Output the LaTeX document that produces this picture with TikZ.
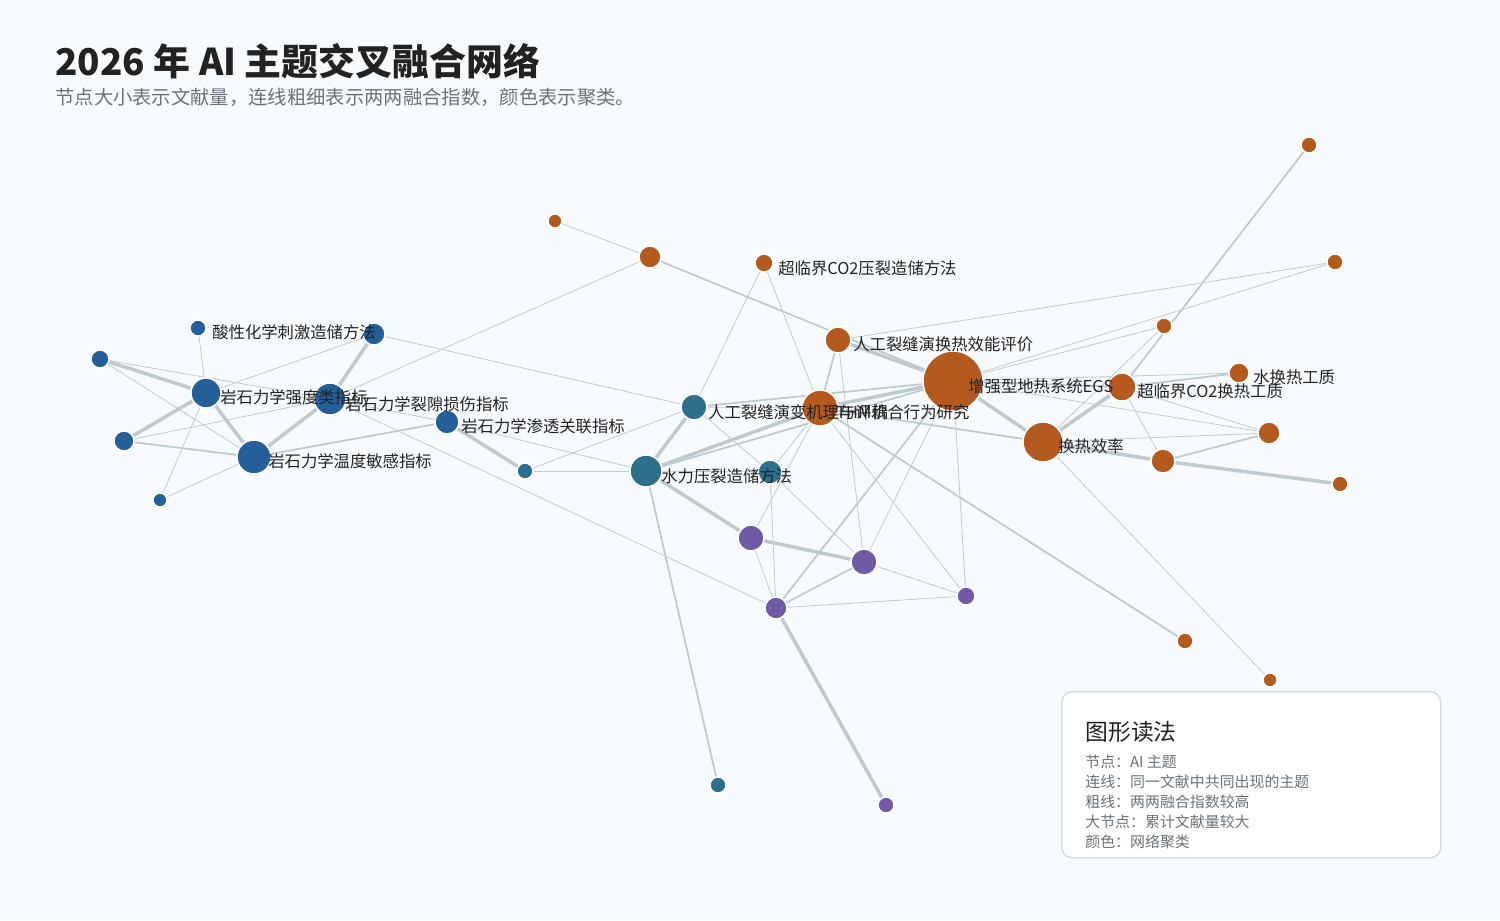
\documentclass[tikz,border=0pt]{standalone}
\usepackage{fontspec}
\setmainfont{Noto Sans CJK SC}
\usetikzlibrary{backgrounds}
\definecolor{bg}{HTML}{F8FBFE}
\definecolor{cb}{HTML}{255F9A}
\definecolor{ct}{HTML}{2E6F8E}
\definecolor{co}{HTML}{B45A1F}
\definecolor{cp}{HTML}{6E5AA5}
\definecolor{ed}{HTML}{BFCAD0}
\definecolor{tx}{HTML}{222222}
\definecolor{sub}{HTML}{6B7378}
\begin{document}
\begin{tikzpicture}[x=0.02cm,y=-0.02cm,
  dot/.style={circle,inner sep=0pt,minimum size=#1*0.04cm,draw=white,line width=0.8pt},
  b/.style={dot=#1,fill=cb}, t/.style={dot=#1,fill=ct}, o/.style={dot=#1,fill=co}, p/.style={dot=#1,fill=cp},
  lbl/.style={font=\fontsize{9.3}{11}\selectfont,text=tx,inner sep=0pt,anchor=west},
  e/.style={draw=ed,line width=0.45pt}, m/.style={draw=ed,line width=1pt}, k/.style={draw=ed,line width=2pt}]
\useasboundingbox (0,0) rectangle (1500,920);
\node[anchor=base west,inner sep=0,font=\fontsize{21}{24}\selectfont\bfseries,text=tx] (title) at (55,75) {2026 年 AI 主题交叉融合网络};
\node[anchor=base west,inner sep=0,font=\fontsize{11}{13}\selectfont,text=sub] (subt) at (55,104) {节点大小表示文献量，连线粗细表示两两融合指数，颜色表示聚类。};
% blue
\node[b=8] (B1) at (198,328) {};
\node[b=11] (B2) at (374,334) {};
\node[b=9] (B3) at (100,359) {};
\node[b=15] (B4) at (206,393) {};
\node[b=16] (B5) at (330,399) {};
\node[b=10] (B6) at (124,441) {};
\node[b=17] (B7) at (254,457) {};
\node[b=7] (B8) at (160,500) {};
\node[b=12] (B9) at (447,422) {};
% teal
\node[t=8] (T1) at (525,471) {};
\node[t=16] (T2) at (646,471) {};
\node[t=13] (T3) at (694,407) {};
\node[t=12] (T4) at (770,472) {};
\node[t=8] (T5) at (718,785) {};
% orange
\node[o=7] (O1) at (555,221) {};
\node[o=11] (O2) at (650,257) {};
\node[o=9] (O3) at (764,263) {};
\node[o=13] (O4) at (838,340) {};
\node[o=18] (O5) at (820,408) {};
\node[o=30] (O6) at (953,381) {};
\node[o=20] (O7) at (1043,442) {};
\node[o=14] (O8) at (1122,387) {};
\node[o=8] (O9) at (1164,326) {};
\node[o=10] (O10) at (1239,373) {};
\node[o=11] (O11) at (1269,433) {};
\node[o=12] (O12) at (1163,461) {};
\node[o=8] (O13) at (1340,484) {};
\node[o=8] (O14) at (1309,145) {};
\node[o=8] (O15) at (1335,262) {};
\node[o=8] (O16) at (1185,641) {};
\node[o=7] (O17) at (1270,680) {};
% purple
\node[p=13] (P1) at (751,538) {};
\node[p=13] (P2) at (864,562) {};
\node[p=11] (P3) at (776,608) {};
\node[p=9] (P4) at (966,596) {};
\node[p=8] (P5) at (886,805) {};
% labels
\node[lbl] (LB1) at (212,332) {酸性化学刺激造储方法};
\node[lbl] (LB4) at (220,397) {岩石力学强度类指标};
\node[lbl] (LB5) at (345,404) {岩石力学裂隙损伤指标};
\node[lbl] (LB7) at (268,461) {岩石力学温度敏感指标};
\node[lbl] (LB9) at (461,426) {岩石力学渗透关联指标};
\node[lbl] (LT2) at (661,476) {水力压裂造储方法};
\node[lbl] (LT3) at (708,412) {人工裂缝演变机理与评价};
\node[lbl] (LO3) at (778,268) {超临界CO2压裂造储方法};
\node[lbl] (LO4) at (853,344) {人工裂缝演换热效能评价};
\node[lbl] (LO5) at (836,412) {THM耦合行为研究};
\node[lbl] (LO6) at (968,386) {增强型地热系统EGS};
\node[lbl] (LO7) at (1058,446) {换热效率};
\node[lbl] (LO8) at (1137,391) {超临界CO2换热工质};
\node[lbl] (LO10) at (1253,377) {水换热工质};
\begin{scope}[on background layer]
\fill[bg] (0,0) rectangle (1500,920);
\draw[k] (B3)--(B4); \draw[e] (B3)--(B5); \draw[e] (B3)--(B7);
\draw[e] (B4)--(B5); \draw[k] (B4)--(B7); \draw[k] (B4)--(B6); \draw[k] (B5)--(B7);
\draw[k] (B5)--(B2); \draw[m] (B6)--(B7); \draw[e] (B6)--(B5); \draw[e] (B1)--(B4);
\draw[e] (B2)--(B4); \draw[e] (B8)--(B4); \draw[e] (B8)--(B7); \draw[m] (B7)--(B9);
\draw[e] (B5)--(B9); \draw[k] (B9)--(T1); \draw[e] (B2)--(T3); \draw[e] (B5)--(O2);
\draw[e] (B5)--(P3); \draw[e] (B9)--(T2);
\draw[e] (T1)--(T2); \draw[e] (T1)--(T3); \draw[k] (T2)--(T3); \draw[e] (T2)--(T4);
\draw[k] (T2)--(O5); \draw[m] (T2)--(O6); \draw[m] (T2)--(T5); \draw[k] (T2)--(P1);
\draw[e] (T3)--(O3); \draw[m] (T3)--(O6); \draw[e] (T3)--(O5); \draw[e] (T3)--(T4);
\draw[e] (T4)--(O5); \draw[e] (T4)--(P2); \draw[e] (T4)--(P3);
\draw[e] (O1)--(O2); \draw[m] (O2)--(O6); \draw[e] (O3)--(O5); \draw[m] (O4)--(O5);
\draw[k] (O4)--(O6); \draw[e] (O4)--(P2); \draw[k] (O5)--(O6); \draw[m] (O5)--(O7);
\draw[e] (O5)--(P1); \draw[m] (O5)--(O16); \draw[k] (O6)--(O7); \draw[m] (O6)--(O8);
\draw[e] (O6)--(O10); \draw[e] (O6)--(O11); \draw[e] (O6)--(O9); \draw[m] (O6)--(P3);
\draw[e] (O6)--(P2); \draw[e] (O6)--(P4); \draw[k] (O7)--(O8); \draw[k] (O7)--(O12);
\draw[e] (O7)--(O9); \draw[e] (O7)--(O11); \draw[m] (O8)--(O10); \draw[e] (O8)--(O12);
\draw[m] (O8)--(O14); \draw[e] (O4)--(O15); \draw[e] (O6)--(O15); \draw[m] (O12)--(O11);
\draw[k] (O12)--(O13); \draw[e] (O7)--(O17); \draw[e] (O8)--(O11);
\draw[k] (P1)--(P2); \draw[e] (P1)--(P3); \draw[m] (P2)--(P3); \draw[e] (P3)--(P4);
\draw[e] (P2)--(P4); \draw[k] (P3)--(P5); \draw[e] (O5)--(P4);
\end{scope}
% legend
\node[draw=ed!70,fill=white,rounded corners=6pt,line width=0.8pt,minimum width=379*0.02cm,minimum height=166*0.02cm,anchor=north west] (leg) at (1061,691) {};
\node[anchor=base west,inner sep=0,font=\fontsize{13}{15}\selectfont,text=tx] (lh) at (1085,740) {图形读法};
\node[anchor=north west,inner sep=0,font=\fontsize{8.5}{11.3}\selectfont,text=sub,align=left] (li) at (1085,755) {节点：AI 主题\\连线：同一文献中共同出现的主题\\粗线：两两融合指数较高\\大节点：累计文献量较大\\颜色：网络聚类};
\end{tikzpicture}
\end{document}
